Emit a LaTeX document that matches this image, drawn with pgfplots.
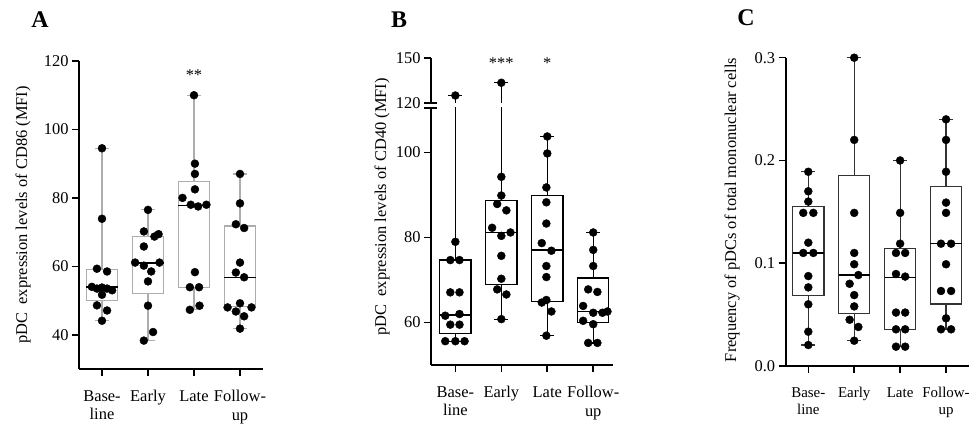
\documentclass[border=0pt]{standalone}
\usepackage{fontspec}
\setmainfont{Liberation Serif}
\usepackage{pgfplots}
\pgfplotsset{compat=1.18}
\usepgfplotslibrary{statistics}

\newcommand\lbl{\fontsize{16.5}{18.5}\selectfont}

\pgfplotsset{
  panel/.style={
    scale only axis, anchor=south west,
    axis lines*=left,
    axis line style={line width=2bp, black},
    tick align=outside,
    major tick length=7bp,
    major tick style={line width=1.6bp, black},
    xmin=0.5, xmax=4.5,
    xtick={1,2,3,4},
    xticklabels={{Base-\\line},Early,Late,{Follow-\\up}},
    xticklabel style={align=center, font=\lbl, anchor=north, yshift=-11bp},
    yticklabel style={font=\lbl},
    ylabel style={font=\lbl},
    /pgf/number format/assume math mode=true,
    boxplot/draw direction=y,
    boxplot/box extend=0.68,
    boxplot/whisker extend=0.3,
    boxplot/every median/.style={black, line width=1.4bp},
  },
  dots/.style={only marks, mark=*, mark size=4pt, black},
  boxA/.style={solid, mark=none, draw=black!32, line width=1.2bp},
  boxB/.style={solid, mark=none, draw=black, line width=1.2bp},
  boxC/.style={solid, mark=none, draw=black!80, line width=1.2bp},
}

\begin{document}
\begin{tikzpicture}
  \path[use as bounding box] (0,0) rectangle (969bp,427bp);

  %% panel A: CD86
  \begin{axis}[panel,
    at={(79bp,58bp)}, width=184bp, height=308bp,
    ymin=30, ymax=120, ytick={40,60,80,100,120},
    ylabel={pDC\ \ expression levels of CD86 (MFI)},
    ylabel style={at={(axis description cs:-0.304,0.5)}, anchor=center},
  ]
    \addplot[boxA, boxplot prepared={draw position=1, lower whisker=44.1,
      lower quartile=49.9, median=54, upper quartile=59, upper whisker=94.5}] coordinates {};
    \addplot[boxA, boxplot prepared={draw position=2, lower whisker=38.3,
      lower quartile=52, median=61, upper quartile=68.7, upper whisker=76.5}] coordinates {};
    \addplot[boxA, boxplot prepared={draw position=3, lower whisker=47.3,
      lower quartile=53.9, median=77.8, upper quartile=84.8, upper whisker=110}] coordinates {};
    \addplot[boxA, boxplot prepared={draw position=4, lower whisker=41.8,
      lower quartile=48.3, median=56.8, upper quartile=71.8, upper whisker=87}] coordinates {};

    \addplot[dots] coordinates {
      (1,94.5) (1,73.9) (0.89,59.3) (1.11,58.5) (0.78,54) (0.89,53.5) (1,53.8)
      (1.11,53.5) (1.22,53) (1,51.7) (0.89,48.6) (1.11,47.1) (1,44.1)};
    \addplot[dots] coordinates {
      (2,76.5) (1.91,70.2) (2.14,68.7) (2.23,69.4) (1.91,65.8) (1.72,61.1) (1.91,60.2)
      (2.25,61.1) (2.07,58.5) (2,55.6) (2,48.5) (2.11,40.8) (1.91,38.3)};
    \addplot[dots] coordinates {
      (3,110) (3.02,90) (3.02,87) (3.02,82.5) (2.75,80) (2.93,78) (3.09,77.5)
      (3.27,78) (3.02,58.3) (2.91,53.9) (3.11,53.9) (3.12,48.5) (2.91,47.3)};
    \addplot[dots] coordinates {
      (4,87) (4,78.4) (3.91,72.3) (4.09,71.2) (4,61.1) (3.91,58.2) (4.09,56.8)
      (4,49.2) (3.73,48) (4.25,48) (3.91,46.8) (4.09,45.4) (4,41.8)};

    \node[font=\lbl] at (axis cs:3,115.9) {**};
  \end{axis}

  %% panel B: CD40, lower part
  \begin{axis}[panel, name=Blow,
    at={(431bp,62bp)}, width=182bp, height=257bp,
    xmin=0.47, xmax=4.43,
    ymin=50, ymax=110.5, ytick={60,80,100},
    ylabel={pDC\ \ expression levels of CD40 (MFI)},
    ylabel style={at={(axis description cs:-0.269,0.615)}, anchor=center},
  ]
    \addplot[boxB, boxplot prepared={draw position=1, lower whisker=55.6,
      lower quartile=57.4, median=61.8, upper quartile=74.7, upper whisker=125}] coordinates {};
    \addplot[boxB, boxplot prepared={draw position=2, lower whisker=60.8,
      lower quartile=69, median=81.2, upper quartile=88.8, upper whisker=133.5}] coordinates {};
    \addplot[boxB, boxplot prepared={draw position=3, lower whisker=56.9,
      lower quartile=64.9, median=77.1, upper quartile=89.9, upper whisker=103.8}] coordinates {};
    \addplot[boxB, boxplot prepared={draw position=4, lower whisker=55.2,
      lower quartile=60, median=62.6, upper quartile=70.5, upper whisker=81.2}] coordinates {};

    \addplot[dots] coordinates {
      (1,79) (0.89,74.7) (1.09,74.7) (0.89,67.1) (1.09,67.1) (0.78,61.6)
      (1.09,62) (0.89,59.5) (1.09,59.5) (0.78,55.6) (1,55.6) (1.2,55.6)};
    \addplot[dots] coordinates {
      (2,94.3) (2,89.9) (1.91,87.9) (2.11,86.4) (1.8,82.3) (2.2,81.2)
      (2,80.4) (2,75.7) (2,70.3) (1.91,67.8) (2.11,66.6) (2,60.8)};
    \addplot[dots] coordinates {
      (3,103.8) (3,99.8) (2.98,91.8) (2.98,88.3) (2.98,83.3) (2.88,78.7) (3.09,76.9)
      (2.98,73.3) (2.98,70.7) (2.98,65.3) (2.88,64.7) (3.09,62.6) (2.98,56.9)};
    \addplot[dots] coordinates {
      (4,81.2) (4,77.1) (4,73.3) (3.89,67.8) (4.09,67.2) (3.78,63.9) (4,62.3)
      (4.2,62.3) (4.31,62.6) (3.78,60.4) (4,59.6) (3.89,55.2) (4.09,55.2)};
  \end{axis}

  %% panel B: upper part above the break
  \begin{axis}[panel, name=Bup,
    at={(431bp,324bp)}, width=182bp, height=45bp,
    axis x line=none, clip mode=individual,
    xmin=0.47, xmax=4.43,
    ymin=120, ymax=150, ytick={120,150},
  ]
    \addplot[boxB, boxplot prepared={draw position=1, lower whisker=55.6,
      lower quartile=57.4, median=61.8, upper quartile=74.7, upper whisker=125}] coordinates {};
    \addplot[boxB, boxplot prepared={draw position=2, lower whisker=60.8,
      lower quartile=69, median=81.2, upper quartile=88.8, upper whisker=133.5}] coordinates {};
    \addplot[dots] coordinates {(1,125) (2,133.5)};

    \node[font=\lbl] at (axis cs:2,146.7) {***};
    \node[font=\lbl] at (axis cs:3,146.7) {*};
  \end{axis}
  \draw[line width=1.6bp] ([xshift=-7bp]Bup.south west) -- ([xshift=6bp]Bup.south west);
  \draw[line width=1.6bp] ([xshift=-7bp]Blow.north west) -- ([xshift=6bp]Blow.north west);

  %% panel C: frequency
  \begin{axis}[panel,
    at={(785.7bp,61bp)}, width=183.3bp, height=308.3bp,
    xmin=0.508, xmax=4.5,
    xticklabel style={font=\fontsize{15}{17}\selectfont},
    ymin=0, ymax=0.3, ytick={0,0.1,0.2,0.3},
    yticklabel={\pgfmathprintnumber[fixed,fixed zerofill,precision=1]{\tick}},
    ylabel={Frequency of pDCs of total mononuclear cells},
    ylabel style={at={(axis description cs:-0.293,0.506)}, anchor=center},
  ]
    \addplot[boxC, boxplot prepared={draw position=1, lower whisker=0.0204,
      lower quartile=0.0684, median=0.110, upper quartile=0.155, upper whisker=0.189}] coordinates {};
    \addplot[boxC, boxplot prepared={draw position=2, lower whisker=0.0246,
      lower quartile=0.0512, median=0.0885, upper quartile=0.185, upper whisker=0.300}] coordinates {};
    \addplot[boxC, boxplot prepared={draw position=3, lower whisker=0.0188,
      lower quartile=0.0357, median=0.0863, upper quartile=0.1145, upper whisker=0.200}] coordinates {};
    \addplot[boxC, boxplot prepared={draw position=4, lower whisker=0.0357,
      lower quartile=0.0603, median=0.119, upper quartile=0.1745, upper whisker=0.240}] coordinates {};

    \addplot[dots] coordinates {
      (1,0.189) (1,0.170) (1,0.160) (0.89,0.149) (1.11,0.149) (1,0.120) (0.89,0.110)
      (1.11,0.110) (1,0.0875) (1,0.0765) (1,0.060) (1,0.0334) (1,0.0204)};
    \addplot[dots] coordinates {
      (2,0.300) (2,0.220) (2,0.149) (2,0.110) (2,0.099) (2.09,0.0885) (1.9,0.080)
      (2,0.069) (2,0.058) (1.9,0.045) (2.09,0.038) (2,0.0246)};
    \addplot[dots] coordinates {
      (3,0.200) (3,0.149) (3,0.119) (2.91,0.110) (3.11,0.110) (2.91,0.0895) (3.11,0.087)
      (2.91,0.052) (3.11,0.052) (2.91,0.0357) (3.11,0.0357) (2.91,0.0188) (3.11,0.0188)};
    \addplot[dots] coordinates {
      (4,0.240) (4,0.220) (4,0.189) (4,0.159) (4,0.149) (3.89,0.119) (4.11,0.119)
      (4,0.099) (3.89,0.073) (4.11,0.073) (4,0.0464) (3.89,0.0357) (4.11,0.0357)};
  \end{axis}

  \node[font=\fontsize{24}{24}\selectfont\bfseries] at (40bp,407bp) {A};
  \node[font=\fontsize{24}{24}\selectfont\bfseries] at (399bp,407bp) {B};
  \node[font=\fontsize{24}{24}\selectfont\bfseries] at (746bp,409bp) {C};
\end{tikzpicture}
\end{document}
